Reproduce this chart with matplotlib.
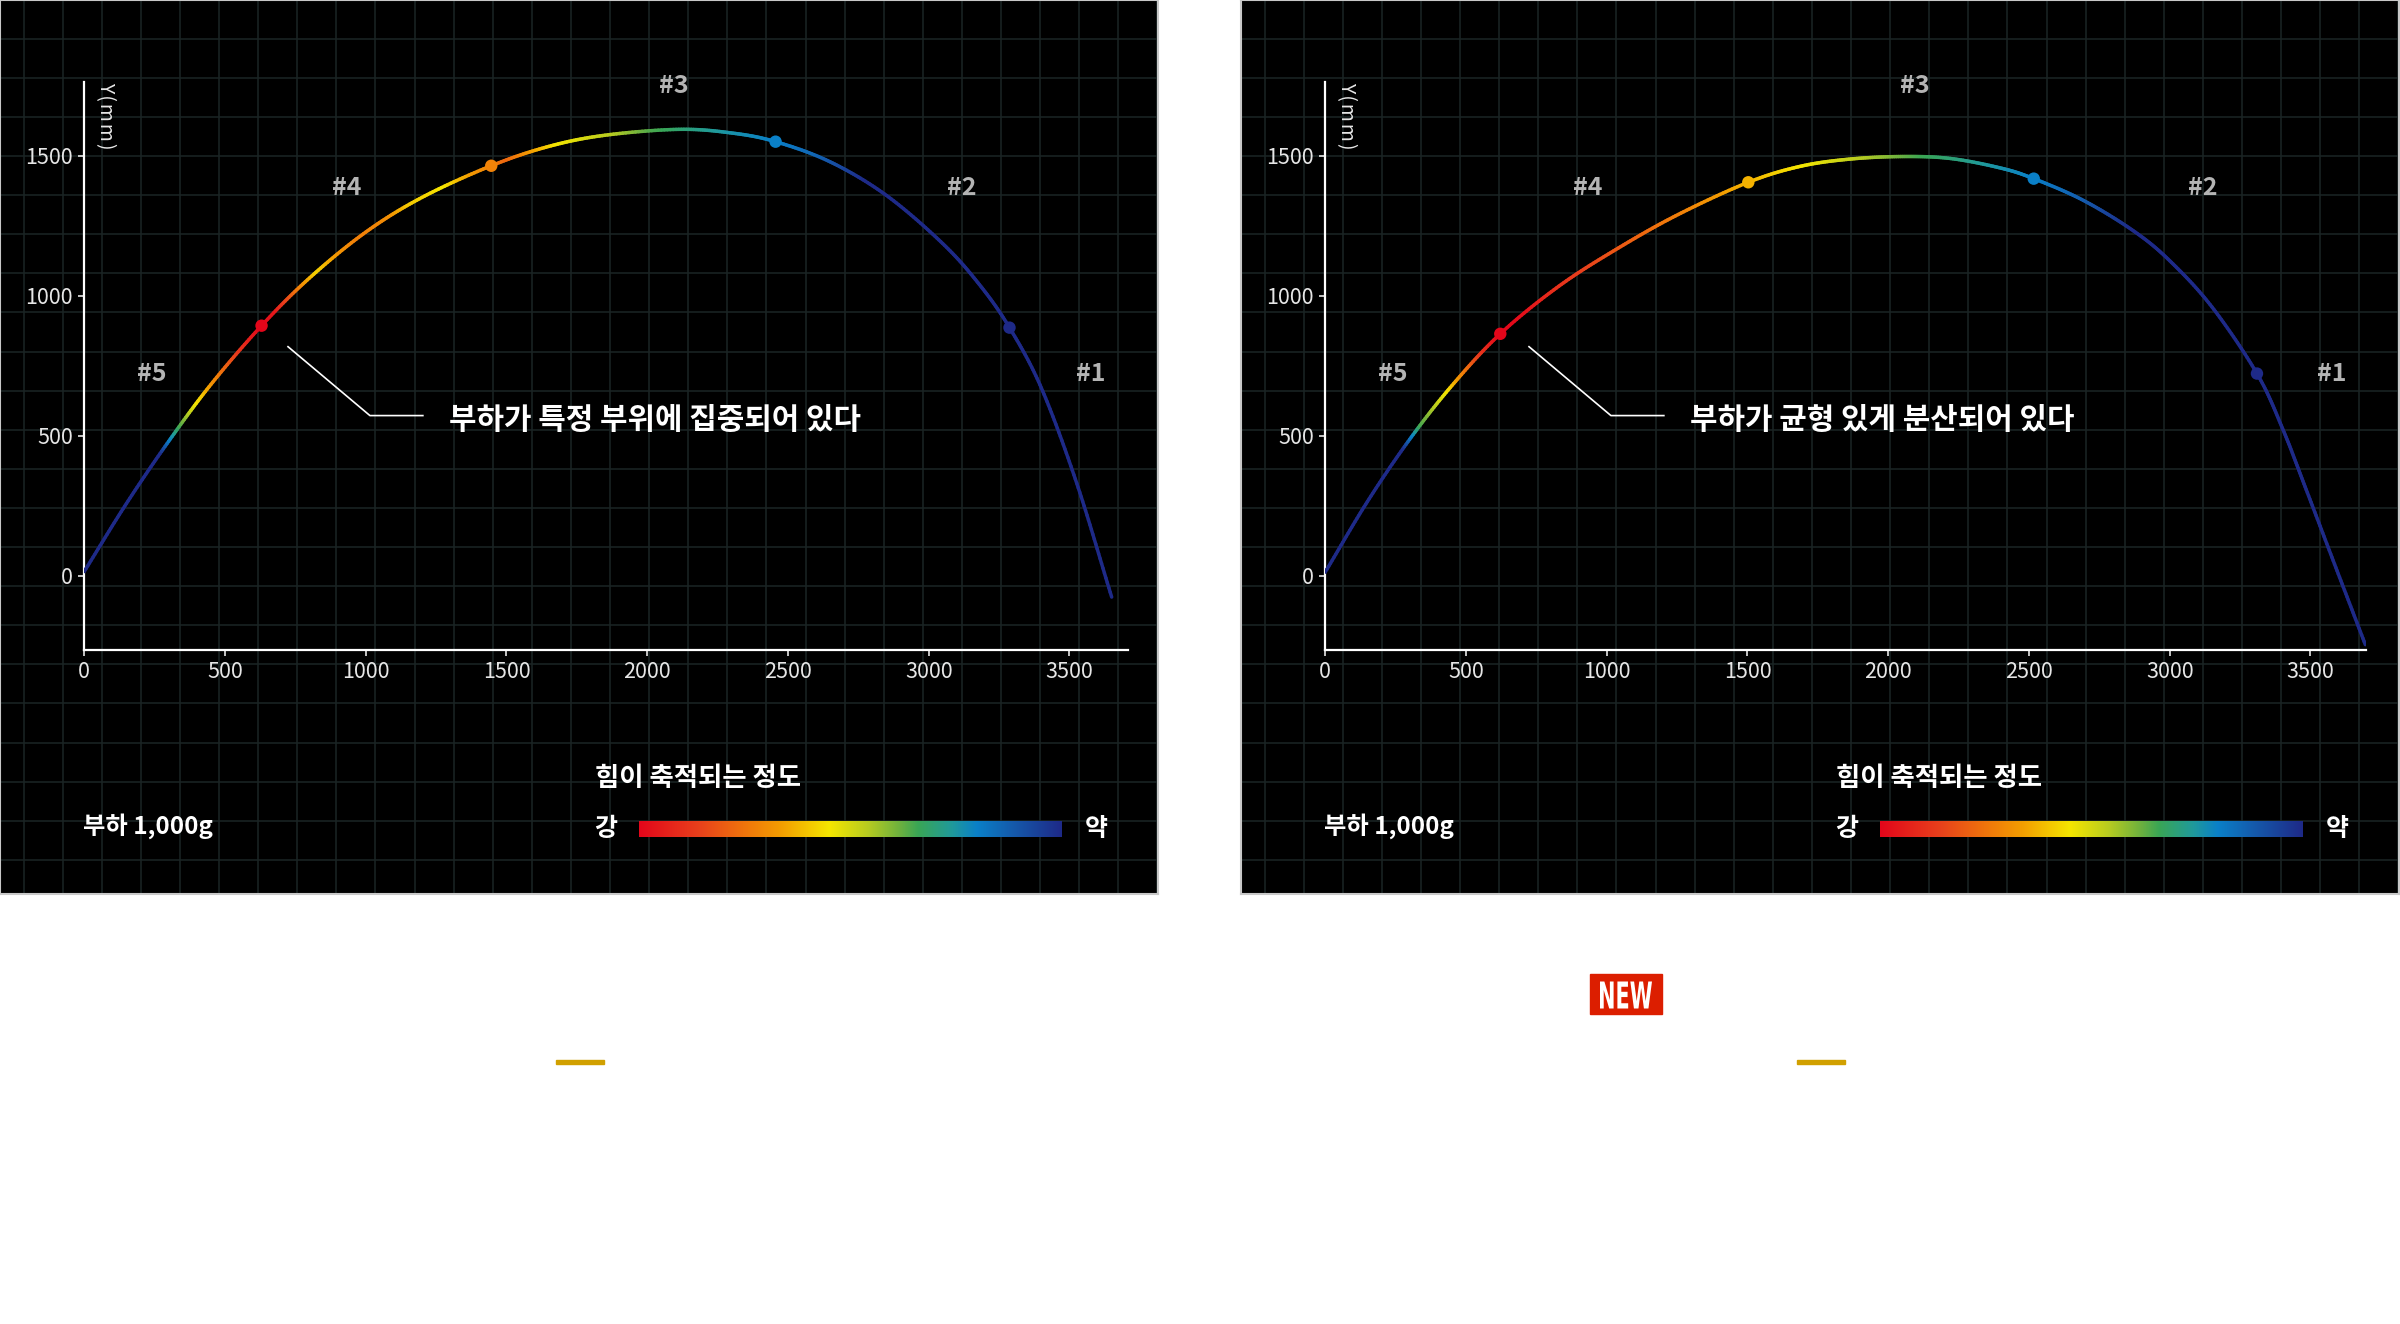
"""Trajectory comparison — load distribution along the arc (two panels)."""

import matplotlib
matplotlib.use("Agg")
import matplotlib.pyplot as plt
import numpy as np
from matplotlib.collections import LineCollection
from matplotlib.colors import LinearSegmentedColormap
from matplotlib.font_manager import FontProperties
from matplotlib.patches import PathPatch, Rectangle
from matplotlib.textpath import TextPath
from matplotlib.transforms import Affine2D

plt.rcParams["font.family"] = ["Noto Sans CJK KR", "DejaVu Sans"]

# ---------------------------------------------------------------------------
# Data
# ---------------------------------------------------------------------------

X_TICKS = [0, 500, 1000, 1500, 2000, 2500, 3000, 3500]
Y_TICKS = [0, 500, 1000, 1500]
SECTION_LABELS = ["#1", "#2", "#3", "#4", "#5"]

# left panel: load concentrated at one spot
LEFT_X = [0, 150, 300, 450, 630, 800, 1000, 1200, 1446, 1650, 1850, 2112,
          2300, 2456, 2650, 2850, 3050, 3180, 3287, 3400, 3526, 3650]
LEFT_Y = [15, 258, 480, 683, 893, 1063, 1227, 1351, 1464, 1533, 1573, 1594,
          1581, 1550, 1478, 1358, 1186, 1040, 886, 671, 330, -76]
LEFT_MARK_X = [630, 1446, 2456, 3287]
LEFT_MARK_Y = [893, 1464, 1550, 886]
# strength along the arc: 0 = 강 (red), 1 = 약 (navy)
LEFT_STOP_X = [0, 270, 305, 340, 400, 460, 550, 630, 680, 755, 825, 900, 970,
               1080, 1150, 1276, 1383, 1448, 1501, 1679, 1891, 2010, 2188,
               2306, 2456, 2602, 2780, 3650]
LEFT_STOP_V = [1.0, 1.0, 0.8, 0.65, 0.45, 0.3, 0.12, 0.0, 0.05, 0.25, 0.42,
               0.32, 0.27, 0.3, 0.4, 0.45, 0.32, 0.28, 0.22, 0.45, 0.55, 0.64,
               0.72, 0.76, 0.8, 0.86, 1.0, 1.0]

# right panel: load spread evenly
RIGHT_X = [0, 150, 300, 450, 622, 830, 1041, 1254, 1503, 1688, 1866, 2052,
           2221, 2399, 2517, 2694, 2872, 3000, 3150, 3310, 3400, 3481, 3590,
           3695]
RIGHT_Y = [13, 265, 487, 679, 864, 1034, 1170, 1290, 1405, 1462, 1488, 1497,
           1490, 1456, 1418, 1340, 1231, 1125, 960, 722, 528, 318, 30, -246]
RIGHT_MARK_X = [622, 1503, 2517, 3310]
RIGHT_MARK_Y = [864, 1405, 1418, 722]
RIGHT_STOP_X = [0, 275, 310, 338, 433, 480, 551, 622, 700, 812, 990, 1254,
                1503, 1688, 1925, 2103, 2339, 2517, 2694, 2872, 3695]
RIGHT_STOP_V = [1.0, 1.0, 0.8, 0.65, 0.45, 0.3, 0.12, 0.0, 0.02, 0.1, 0.17,
                0.27, 0.37, 0.45, 0.55, 0.65, 0.74, 0.8, 0.88, 1.0, 1.0]

# colour scale 강 -> 약
CMAP_POS = [0.0, 0.14, 0.26, 0.34, 0.45, 0.54, 0.62, 0.66, 0.74, 0.8, 0.89, 1.0]
CMAP_COL = ["#e3061a", "#e8401c", "#f07a0a", "#f3a000", "#f5e600", "#b8cc20",
            "#6ab040", "#3aa655", "#209a9a", "#0a80c8", "#1558aa", "#1e2a88"]

# ---------------------------------------------------------------------------
# Layout helpers (pixel units, origin top-left)
# ---------------------------------------------------------------------------

W, H = 2400, 1324
GRID_COLOR = "#1b2525"
cmap = LinearSegmentedColormap.from_list("strength", list(zip(CMAP_POS, CMAP_COL)))

fig = plt.figure(figsize=(W / 100, H / 100), dpi=100, facecolor="white")


def px_axes(x0, y0, x1, y1, **kw):
    return fig.add_axes([x0 / W, 1 - y1 / H, (x1 - x0) / W, (y1 - y0) / H], **kw)


def fx(x):
    return x / W


def fy(y):
    return 1 - y / H


def smooth_path(xs, ys, n_sub=24):
    """Catmull-Rom rendering of the polyline so the arc is drawn smooth."""
    p = np.column_stack([xs, ys]).astype(float)
    p = np.vstack([2 * p[0] - p[1], p, 2 * p[-1] - p[-2]])
    t = np.linspace(0, 1, n_sub, endpoint=False)[:, None]
    out = []
    for i in range(1, len(p) - 2):
        p0, p1, p2, p3 = p[i - 1], p[i], p[i + 1], p[i + 2]
        out.append(0.5 * (2 * p1 + (-p0 + p2) * t
                          + (2 * p0 - 5 * p1 + 4 * p2 - p3) * t ** 2
                          + (-p0 + 3 * p1 - 3 * p2 + p3) * t ** 3))
    out.append(p[-2][None, :])
    return np.vstack(out)


def gradient_line(ax, xs, ys, stop_x, stop_v):
    pts = smooth_path(xs, ys)
    segs = np.stack([pts[:-1], pts[1:]], axis=1)
    mid = (pts[:-1, 0] + pts[1:, 0]) / 2
    vals = np.interp(mid, stop_x, stop_v)
    lc = LineCollection(segs, colors=cmap(vals), linewidths=2.5,
                        capstyle="round", zorder=3)
    ax.add_collection(lc)


def draw_panel(ox, xs, ys, mx, my, stop_x, stop_v, note, xmax):
    # background with square grid
    bg = px_axes(ox, 0, ox + 1158, 894)
    bg.set_facecolor("black")
    bg.set_xlim(0, 1158)
    bg.set_ylim(894, 0)
    for gx in np.arange(23.5, 1158, 39.1):
        bg.axvline(gx, color=GRID_COLOR, lw=1.1, zorder=0)
    for gy in np.arange(-0.4, 894, 39.1):
        bg.axhline(gy, color=GRID_COLOR, lw=1.1, zorder=0)
    bg.set_xticks([])
    bg.set_yticks([])
    for sp in bg.spines.values():
        sp.set_color("#c8c8c8")
        sp.set_linewidth(1.5)

    # data axes: 0.2815 px per mm on both axes
    x_right = ox + 84.2 + xmax * 0.2815
    ax = px_axes(ox + 84.2, 82.3, x_right, 650)
    ax.set_facecolor("none")
    ax.set_xlim(0, xmax)
    ax.set_ylim(-265, 1762)
    for side in ("top", "right"):
        ax.spines[side].set_visible(False)
    for side in ("left", "bottom"):
        ax.spines[side].set_color("white")
        ax.spines[side].set_linewidth(1.6)
    ax.set_xticks(X_TICKS)
    ax.set_yticks(Y_TICKS)
    ax.tick_params(colors="#e6e6e6", labelsize=15.5, length=4, width=1.2,
                   direction="out", pad=4)

    gradient_line(ax, xs, ys, stop_x, stop_v)
    mc = cmap(np.interp(mx, stop_x, stop_v))
    ax.scatter(mx, my, s=80, c=mc, zorder=4, edgecolors="none")

    lab_pos = {"#3": (2094, 1749), "#4": (933, 1384), "#2": (3116, 1384),
               "#5": (241, 722), "#1": (3574, 722)}
    for lab in SECTION_LABELS:
        lx, ly = lab_pos[lab]
        ax.text(lx, ly, lab, color="#b4b4b4", fontsize=18, fontweight="bold",
                ha="center", va="center")

    # callout
    ax.plot([724, 1015, 1203], [818, 572, 572], color="white", lw=1.2, zorder=3)
    ax.text(1296, 556, note, color="white", fontsize=21.5, fontweight="bold",
            ha="left", va="center")

    fig.text(fx(ox + 105), fy(82), "Y\u200a(\u200am\u200am\u200a)",
             rotation=270, color="#e6e6e6", fontsize=14, ha="center", va="top")

    # bottom legend
    fig.text(fx(ox + 83), fy(826), "부하 1,000g", color="white", fontsize=17.5,
             fontweight="bold", ha="left", va="center")
    fig.text(fx(ox + 698), fy(779), "힘이 축적되는 정도", color="white",
             fontsize=19, fontweight="bold", ha="center", va="center")
    fig.text(fx(ox + 606), fy(829), "강", color="white", fontsize=18,
             fontweight="bold", ha="center", va="center")
    fig.text(fx(ox + 1096), fy(829), "약", color="white", fontsize=18,
             fontweight="bold", ha="center", va="center")
    cb = px_axes(ox + 639, 821, ox + 1062, 837)
    cb.imshow(np.linspace(0, 1, 256)[None, :], cmap=cmap, aspect="auto")
    cb.set_axis_off()

    # short accent line under panel
    fig.add_artist(Rectangle((fx(ox + 556), fy(1064)), 48 / W, 4 / H,
                             transform=fig.transFigure, color="#d1a000"))


draw_panel(0, LEFT_X, LEFT_Y, LEFT_MARK_X, LEFT_MARK_Y, LEFT_STOP_X,
           LEFT_STOP_V, "부하가 특정 부위에 집중되어 있다", 3707)
draw_panel(1241, RIGHT_X, RIGHT_Y, RIGHT_MARK_X, RIGHT_MARK_Y, RIGHT_STOP_X,
           RIGHT_STOP_V, "부하가 균형 있게 분산되어 있다", 3699)

# "NEW" badge
fig.add_artist(Rectangle((fx(1590), fy(1014)), 72 / W, 40 / H,
                         transform=fig.transFigure, color="#dc1e00"))
tp = TextPath((0, 0), "NEW", size=1,
              prop=FontProperties(family="DejaVu Sans", weight="bold"))
bb = tp.get_extents()
tr = (Affine2D().translate(-bb.x0, -bb.y0)
      .scale(52 / bb.width, 27 / bb.height)
      .translate(1600, H - 1008.5)
      .scale(1 / W, 1 / H)) + fig.transFigure
fig.add_artist(PathPatch(tp, transform=tr, color="white", lw=0))

fig.savefig("out.png", dpi=100, facecolor="white")
